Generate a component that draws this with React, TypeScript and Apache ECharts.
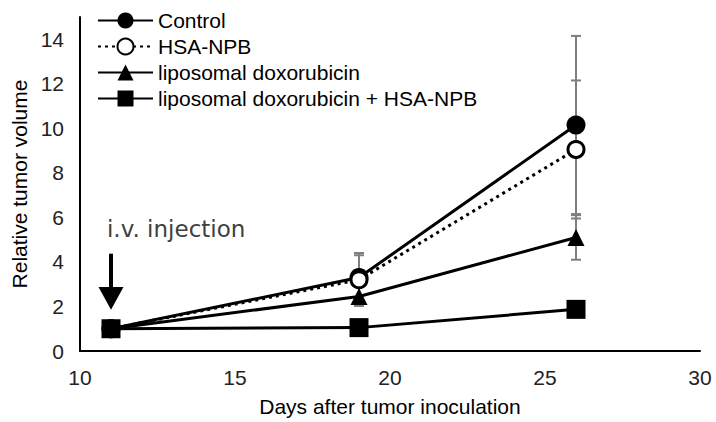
import React, { useEffect, useRef } from "react";
import * as echarts from "echarts";

const days = [11, 19, 26];
const seriesNames = [
  "Control",
  "HSA-NPB",
  "liposomal doxorubicin",
  "liposomal doxorubicin + HSA-NPB",
];
const controlVals = [1, 3.3, 10.15];
const controlErr = [0, 1.1, 4.0];
const hsaVals = [1, 3.2, 9.05];
const hsaErr = [0, 1.1, 3.1];
const lipoVals = [1, 2.45, 5.1];
const lipoErr = [0, 0.43, 1.0];
const comboVals = [1, 1.05, 1.87];
const comboErr = [0, 0.1, 0.25];

const xTicks = [10, 15, 20, 25, 30];
const yTicks = [0, 2, 4, 6, 8, 10, 12, 14];

const annotationText = "i.v. injection";
const arrowX = 11;
const arrowTop = 4.37;
const arrowHeadBase = 2.87;
const arrowTip = 1.85;
const annotationPos = [10.87, 5.47];

const FONT = "'Liberation Sans', Arial, sans-serif";

export default function App() {
  const ref = useRef<HTMLDivElement>(null);
  useEffect(() => {
    document.body.style.margin = "0";
    const chart = echarts.init(ref.current!, null, { renderer: "svg" });
    const all = [
      { v: controlVals, e: controlErr },
      { v: hsaVals, e: hsaErr },
      { v: lipoVals, e: lipoErr },
      { v: comboVals, e: comboErr },
    ];
    const errData: number[][] = [];
    all.forEach((s) => {
      days.forEach((d, i) => {
        if (s.e[i] > 0) errData.push([d, s.v[i], s.e[i]]);
      });
    });
    const mk = (vals: number[]) => days.map((d, i) => [d, vals[i]]);
    const lineBase = {
      type: "line",
      symbolSize: 17,
      color: "#000",
    };
    const lw = 3;
    chart.setOption({
      animation: false,
      grid: { left: 80, right: 16, top: 17, bottom: 65 },
      legend: {
        data: seriesNames,
        orient: "vertical",
        left: 97,
        top: 10,
        padding: 0,
        itemWidth: 55,
        itemHeight: 20,
        itemGap: 5,
        textStyle: { fontFamily: FONT, fontSize: 21, color: "#000" },
      },
      xAxis: {
        type: "value",
        min: xTicks[0],
        max: xTicks[xTicks.length - 1],
        interval: 5,
        splitLine: { show: false },
        axisTick: { show: false },
        axisLine: { lineStyle: { color: "#000", width: 2 } },
        axisLabel: { fontFamily: FONT, fontSize: 21, color: "#222", margin: 16 },
        name: "Days after tumor inoculation",
        nameLocation: "middle",
        nameGap: 45,
        nameTextStyle: { fontFamily: FONT, fontSize: 21, color: "#000" },
      },
      yAxis: {
        type: "value",
        min: yTicks[0],
        max: 15,
        interval: 2,
        splitLine: { show: false },
        axisTick: { show: false },
        axisLine: { show: true, lineStyle: { color: "#000", width: 2 } },
        axisLabel: {
          fontFamily: FONT,
          fontSize: 21,
          color: "#222",
          margin: 16,
          showMaxLabel: false,
        },
        name: "Relative tumor volume",
        nameLocation: "middle",
        nameGap: 47,
        nameTextStyle: { fontFamily: FONT, fontSize: 21, color: "#000" },
      },
      series: [
        {
          type: "custom",
          name: "err",
          z: 1,
          data: errData,
          renderItem: (params: any, api: any) => {
            const x = api.value(0);
            const y = api.value(1);
            const e = api.value(2);
            const top = api.coord([x, y + e]);
            const bot = api.coord([x, y - e]);
            const w = 5;
            const style = { stroke: "#7f7f7f", lineWidth: 2 };
            return {
              type: "group",
              children: [
                { type: "line", shape: { x1: top[0], y1: top[1], x2: bot[0], y2: bot[1] }, style },
                { type: "line", shape: { x1: top[0] - w, y1: top[1], x2: top[0] + w, y2: top[1] }, style },
                { type: "line", shape: { x1: bot[0] - w, y1: bot[1], x2: bot[0] + w, y2: bot[1] }, style },
              ],
            };
          },
        },
        {
          ...lineBase,
          z: 3,
          name: seriesNames[0],
          data: mk(controlVals),
          symbol: "circle",
          symbolSize: 19,
          lineStyle: { color: "#000", width: lw },
          itemStyle: { color: "#000" },
        },
        {
          ...lineBase,
          z: 4,
          name: seriesNames[1],
          data: mk(hsaVals),
          symbol: "circle",
          symbolSize: 16,
          lineStyle: { color: "#000", width: lw, type: [3, 4] },
          itemStyle: { color: "#fff", borderColor: "#000", borderWidth: 3 },
        },
        {
          ...lineBase,
          z: 5,
          name: seriesNames[2],
          data: mk(lipoVals),
          symbol: "triangle",
          lineStyle: { color: "#000", width: lw },
          itemStyle: { color: "#000" },
        },
        {
          ...lineBase,
          z: 6,
          name: seriesNames[3],
          data: mk(comboVals),
          symbol: "rect",
          symbolSize: 19,
          lineStyle: { color: "#000", width: lw },
          itemStyle: { color: "#000" },
        },
      ],
    });

    const c = (p: number[]) => chart.convertToPixel({ xAxisIndex: 0, yAxisIndex: 0 }, p) as number[];
    const pTop = c([arrowX, arrowTop]);
    const pBase = c([arrowX, arrowHeadBase]);
    const pTip = c([arrowX, arrowTip]);
    const pText = c(annotationPos);
    chart.setOption({
      graphic: [
        {
          type: "line",
          shape: { x1: pTop[0], y1: pTop[1], x2: pBase[0], y2: pBase[1] + 2 },
          style: { stroke: "#000", lineWidth: 4 },
          z: 10,
        },
        {
          type: "polygon",
          shape: {
            points: [
              [pBase[0] - 12.5, pBase[1]],
              [pBase[0] + 12.5, pBase[1]],
              [pTip[0], pTip[1]],
            ],
          },
          style: { fill: "#000" },
          z: 10,
        },
        {
          type: "text",
          x: pText[0],
          y: pText[1],
          style: {
            text: annotationText,
            fontFamily: "'DejaVu Sans', sans-serif",
            fontSize: 23,
            fill: "#404040",
            verticalAlign: "middle",
            align: "left",
          },
          z: 10,
        },
      ],
    });
    return () => chart.dispose();
  }, []);
  return <div ref={ref} style={{ width: 716, height: 422 }} />;
}
